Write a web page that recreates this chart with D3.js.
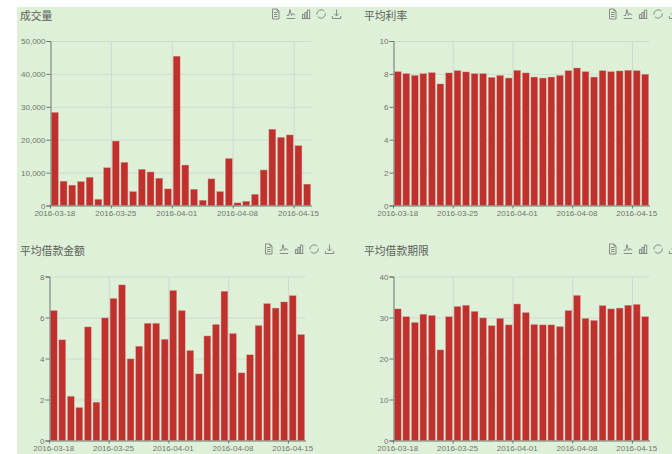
<!DOCTYPE html>
<html lang="zh">
<head>
<meta charset="utf-8">
<script src="https://cdn.jsdelivr.net/npm/d3@7/dist/d3.min.js"></script>
<style>
  html, body { margin: 0; padding: 0; background: #fff; overflow: hidden; }
  svg { display: block; }
  text { font-family: "Liberation Sans", Arial, sans-serif; }
  .title { font-family: "Noto Sans CJK SC", sans-serif; font-size: 10.8px; fill: #5a625a; }
  .tick text { font-size: 8px; fill: #6f756f; }
</style>
</head>
<body>
<svg id="chart" width="672" height="454"></svg>
<script>
// One date per bar; all four panels share this axis.
const dates = [
  "2016-03-18","2016-03-19","2016-03-20","2016-03-21","2016-03-22","2016-03-23","2016-03-24",
  "2016-03-25","2016-03-26","2016-03-27","2016-03-28","2016-03-29","2016-03-30","2016-03-31",
  "2016-04-01","2016-04-02","2016-04-03","2016-04-04","2016-04-05","2016-04-06","2016-04-07",
  "2016-04-08","2016-04-09","2016-04-10","2016-04-11","2016-04-12","2016-04-13","2016-04-14",
  "2016-04-15","2016-04-16"
];
const dateTicks = ["2016-03-18","2016-03-25","2016-04-01","2016-04-08","2016-04-15"];

const volume = [28300,7400,6200,7300,8600,1900,11500,19600,13150,4250,11000,10200,8300,5060,45400,
                12300,4950,1600,8100,4250,14300,800,1300,3400,10800,23200,20750,21450,18200,6500];
const avgRate = [8.14,8.02,7.91,8.02,8.08,7.39,8.06,8.2,8.12,8.02,8.02,7.79,7.91,7.75,8.22,
                 8.06,7.81,7.75,7.81,7.91,8.2,8.36,8.14,7.81,8.2,8.14,8.18,8.22,8.2,7.98];
const avgAmount = [6.34,4.91,2.16,1.61,5.54,1.87,5.98,6.93,7.59,3.98,4.6,5.72,5.72,4.94,7.32,
                   6.34,4.39,3.25,5.1,5.66,7.28,5.22,3.3,4.18,5.61,6.68,6.46,6.76,7.07,5.17];
const avgTerm = [32.1,30.2,28.8,30.8,30.5,22.1,30.2,32.7,33,31.5,29.9,28,29.8,28.2,33.3,
                 31.2,28.3,28.2,28.2,27.8,31.7,35.4,29.8,29.3,32.9,32.1,32.3,33,33.2,30.2];

const volumeTicks = [0,10000,20000,30000,40000,50000];
const rateTicks = [0,2,4,6,8,10];
const amountTicks = [0,2,4,6,8];
const termTicks = [0,10,20,30,40];

// Panel frames in page pixels.
const panels = [
  { title: "成交量",       values: volume,    ticks: volumeTicks, left: 50.5,  right: 311.5, top: 41,    bottom: 205.5, titleX: 20,  titleY: 20,  toolX: 275.5, toolY: 14 },
  { title: "平均利率",     values: avgRate,   ticks: rateTicks,   left: 393.5, right: 649.5, top: 41,    bottom: 205.5, titleX: 364, titleY: 20,  toolX: 612.5, toolY: 14 },
  { title: "平均借款金额", values: avgAmount, ticks: amountTicks, left: 49.5,  right: 305.5, top: 276.5, bottom: 440.5, titleX: 20,  titleY: 255, toolX: 268.5, toolY: 249 },
  { title: "平均借款期限", values: avgTerm,   ticks: termTicks,   left: 393.5, right: 649.5, top: 276.5, bottom: 440.5, titleX: 364, titleY: 255, toolX: 612.5, toolY: 249 }
];

const svg = d3.select("#chart");

// Green page panel; a white strip remains along the top and left edges.
svg.append("rect").attr("x", 17).attr("y", 7).attr("width", 655).attr("height", 447).attr("fill", "#dff0d8");

// Toolbar glyphs, each drawn around its own centre.
const toolIcons = [
  "M-3,-5H1.5L3.5,-3V5H-3ZM1.5,-5V-3H3.5M-1.5,-1.5H2M-1.5,0.5H2M-1.5,2.5H2",
  "M-4,4.5H4.5M-4,1.5L-2,1.5L-0.8,-4.5L0.8,1.5L2,-0.5L4.5,1",
  "M-4,4.5H4.5M-3.5,4.5V0.5H-1.5V4.5M-1,4.5V-1.5H1V4.5M1.5,4.5V-4H3.8V4.5",
  "M3.3,-2.8A4.4,4.4 0 0 0 -4.3,0.6M-3.3,2.8A4.4,4.4 0 0 0 4.3,-0.6",
  "M-4,2V4.5H4.5V2M0.25,-4.5V2M-2,-0.3L0.25,2L2.5,-0.3"
];

panels.forEach(p => {
  const x = d3.scaleBand().domain(dates).range([p.left, p.right]).paddingInner(0.2).paddingOuter(0.1);
  const y = d3.scaleLinear().domain([p.ticks[0], p.ticks[p.ticks.length - 1]]).range([p.bottom, p.top]);
  const g = svg.append("g");
  const offset = -x.step() / 2;   // ticks sit on band edges, labels on band centres

  g.append("text").attr("class", "title").attr("x", p.titleX).attr("y", p.titleY).text(p.title);

  // Horizontal grid
  g.append("g")
    .attr("transform", `translate(${p.left},0)`)
    .call(d3.axisLeft(y).tickValues(p.ticks.slice(1)).tickSize(-(p.right - p.left)).tickFormat(""))
    .call(a => a.select(".domain").remove())
    .call(a => a.selectAll("line").attr("stroke", "#cfdccf").attr("stroke-width", 1));

  // Vertical grid
  g.append("g")
    .attr("transform", `translate(0,${p.bottom})`)
    .call(d3.axisBottom(x).tickValues(dateTicks.slice(1)).tickSize(-(p.bottom - p.top)).tickFormat(""))
    .call(a => a.select(".domain").remove())
    .call(a => a.selectAll("line").attr("transform", `translate(${offset},0)`).attr("stroke", "#cfd9cf").attr("stroke-width", 1));

  // Bars
  g.append("g").selectAll("rect").data(p.values).join("rect")
    .attr("x", (d, i) => x(dates[i]))
    .attr("y", d => y(d))
    .attr("width", x.bandwidth())
    .attr("height", d => y(0) - y(d))
    .attr("fill", "#c0312e")
    .attr("stroke", "#dba79e")
    .attr("stroke-width", 0.4);

  // Value axis
  g.append("g")
    .attr("transform", `translate(${p.left},0)`)
    .call(d3.axisLeft(y).tickValues(p.ticks).tickSize(4).tickPadding(1).tickFormat(d3.format(",")))
    .call(a => a.selectAll("path,line").attr("stroke", "#6f756f"));

  // Date axis
  g.append("g")
    .attr("transform", `translate(0,${p.bottom})`)
    .call(d3.axisBottom(x).tickValues(dateTicks).tickSize(3).tickSizeOuter(0).tickPadding(2))
    .call(a => a.select(".domain").attr("stroke", "#6f756f"))
    .call(a => a.selectAll("line").attr("transform", `translate(${offset},0)`).attr("stroke", "#6f756f"));

  // Toolbar
  g.append("g").selectAll("path").data(toolIcons).join("path")
    .attr("transform", (d, i) => `translate(${p.toolX + i * 15.2},${p.toolY})`)
    .attr("d", d => d)
    .attr("fill", "none")
    .attr("stroke", "#858c85")
    .attr("stroke-width", 1);
});
</script>
</body>
</html>
